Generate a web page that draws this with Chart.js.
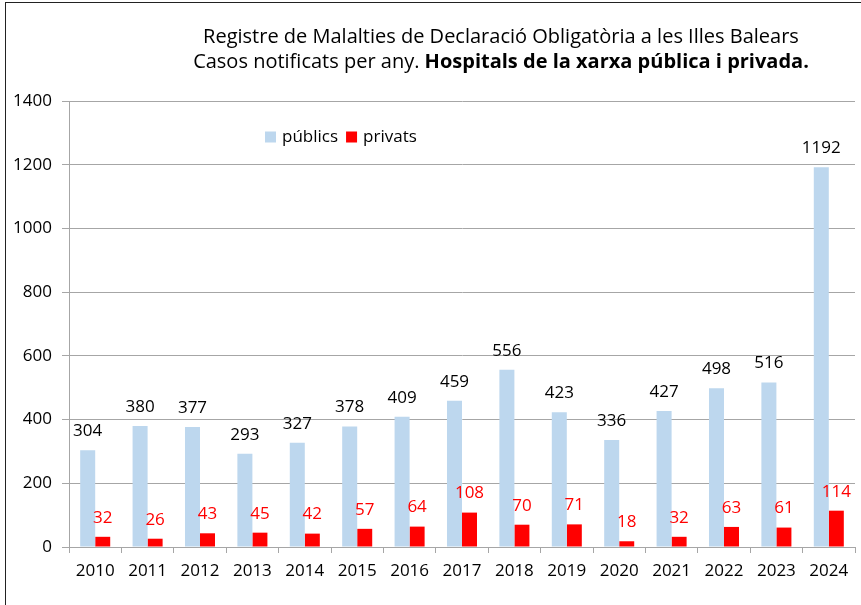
<!DOCTYPE html>
<html>
<head>
<meta charset="utf-8">
<script src="https://cdn.jsdelivr.net/npm/chart.js@4.4.1/dist/chart.umd.min.js"></script>
<style>
  html, body { margin: 0; padding: 0; background: #fff; }
  #wrap { position: relative; width: 861px; height: 605px; }
  #frame { position: absolute; left: 5px; top: 2px; width: 900px; height: 700px;
           border-left: 1.5px solid #222; border-top: 1.5px solid #222; }
  canvas { position: absolute; left: 0; top: 0; }
</style>
</head>
<body>
<div id="wrap">
  <div id="frame"></div>
  <canvas id="casesChart" width="861" height="605"></canvas>
</div>
<script>
var years = ['2010','2011','2012','2013','2014','2015','2016','2017','2018','2019','2020','2021','2022','2023','2024'];
var publics = [304, 380, 377, 293, 327, 378, 409, 459, 556, 423, 336, 427, 498, 516, 1192];
var privats = [32, 26, 43, 45, 42, 57, 64, 108, 70, 71, 18, 32, 63, 61, 114];
var yTicks = [0, 200, 400, 600, 800, 1000, 1200, 1400];

var titleLine1 = 'Registre de Malalties de Declaració Obligatòria a les Illes Balears';
var titleLine2a = 'Casos notificats per any. ';
var titleLine2b = 'Hospitals de la xarxa pública i privada.';

var FONT = '"Open Sans", "Noto Sans", sans-serif';

// title with a bold second half, drawn by hand
var titlePlugin = {
    id: 'twoPartTitle',
    afterDraw: function(chart) {
        var ctx = chart.ctx;
        var cx = 501;
        ctx.save();
        ctx.fillStyle = '#000';
        ctx.textBaseline = 'middle';
        ctx.textAlign = 'center';
        ctx.font = '20px ' + FONT;
        ctx.fillText(titleLine1, cx, 37);

        ctx.textAlign = 'left';
        ctx.font = '20px ' + FONT;
        var wa = ctx.measureText(titleLine2a).width;
        ctx.font = 'bold 20px ' + FONT;
        var wb = ctx.measureText(titleLine2b).width;
        var x0 = cx - (wa + wb) / 2;
        ctx.font = '20px ' + FONT;
        ctx.fillText(titleLine2a, x0, 62);
        ctx.font = 'bold 20px ' + FONT;
        ctx.fillText(titleLine2b, x0 + wa, 62);
        ctx.restore();
    }
};

// value labels above each bar
var valueLabels = {
    id: 'valueLabels',
    afterDatasetsDraw: function(chart) {
        var ctx = chart.ctx;
        ctx.save();
        ctx.font = '17px ' + FONT;
        ctx.textAlign = 'center';
        ctx.textBaseline = 'middle';
        chart.data.datasets.forEach(function(ds, i) {
            var meta = chart.getDatasetMeta(i);
            ctx.fillStyle = ds.labelColor;
            meta.data.forEach(function(bar, j) {
                ctx.fillText(ds.data[j], bar.x, bar.y - 19);
            });
        });
        ctx.restore();
    }
};

// legend sitting inside the plot
var innerLegend = {
    id: 'innerLegend',
    afterDraw: function(chart) {
        var ctx = chart.ctx;
        var x = 265, y = 137, box = 11;
        ctx.save();
        ctx.font = '17px ' + FONT;
        ctx.textBaseline = 'middle';
        ctx.textAlign = 'left';
        chart.data.datasets.forEach(function(ds) {
            ctx.fillStyle = ds.backgroundColor;
            ctx.fillRect(x, y - box / 2, box, box);
            ctx.fillStyle = '#000';
            ctx.fillText(ds.label, x + box + 6, y);
            x += box + 6 + ctx.measureText(ds.label).width + 8;
        });
        ctx.restore();
    }
};

var ctx = document.getElementById('casesChart').getContext('2d');
var myChart = new Chart(ctx, {
    type: 'bar',
    data: {
        labels: years,
        datasets: [{
            label: 'públics',
            data: publics,
            backgroundColor: '#BDD7EE',
            labelColor: '#000000',
            categoryPercentage: 0.573,
            barPercentage: 1.0
        }, {
            label: 'privats',
            data: privats,
            backgroundColor: '#FF0000',
            labelColor: '#FF0000',
            categoryPercentage: 0.573,
            barPercentage: 1.0
        }]
    },
    options: {
        responsive: false,
        animation: false,
        layout: {
            padding: { top: 101, right: 6, bottom: 0, left: 0 }
        },
        plugins: {
            legend: { display: false },
            title: { display: false },
            tooltip: { enabled: false }
        },
        scales: {
            x: {
                grid: {
                    drawOnChartArea: false,
                    offset: true,
                    tickLength: 6,
                    color: '#A6A6A6'
                },
                border: { color: '#A6A6A6' },
                ticks: {
                    color: '#000',
                    font: { family: FONT, size: 17 },
                    padding: 8,
                    maxRotation: 0
                },
                afterFit: function(scale) { scale.height = 58; }
            },
            y: {
                min: 0,
                max: 1400,
                afterBuildTicks: function(scale) {
                    scale.ticks = yTicks.map(function(v) { return { value: v }; });
                },
                grid: {
                    color: '#A6A6A6',
                    tickLength: 7
                },
                border: { color: '#A6A6A6' },
                ticks: {
                    color: '#000',
                    font: { family: FONT, size: 17 },
                    padding: 10,
                    callback: function(value) { return String(value); }
                },
                afterFit: function(scale) { scale.width = 69; }
            }
        }
    },
    plugins: [valueLabels, innerLegend, titlePlugin]
});
</script>
</body>
</html>
